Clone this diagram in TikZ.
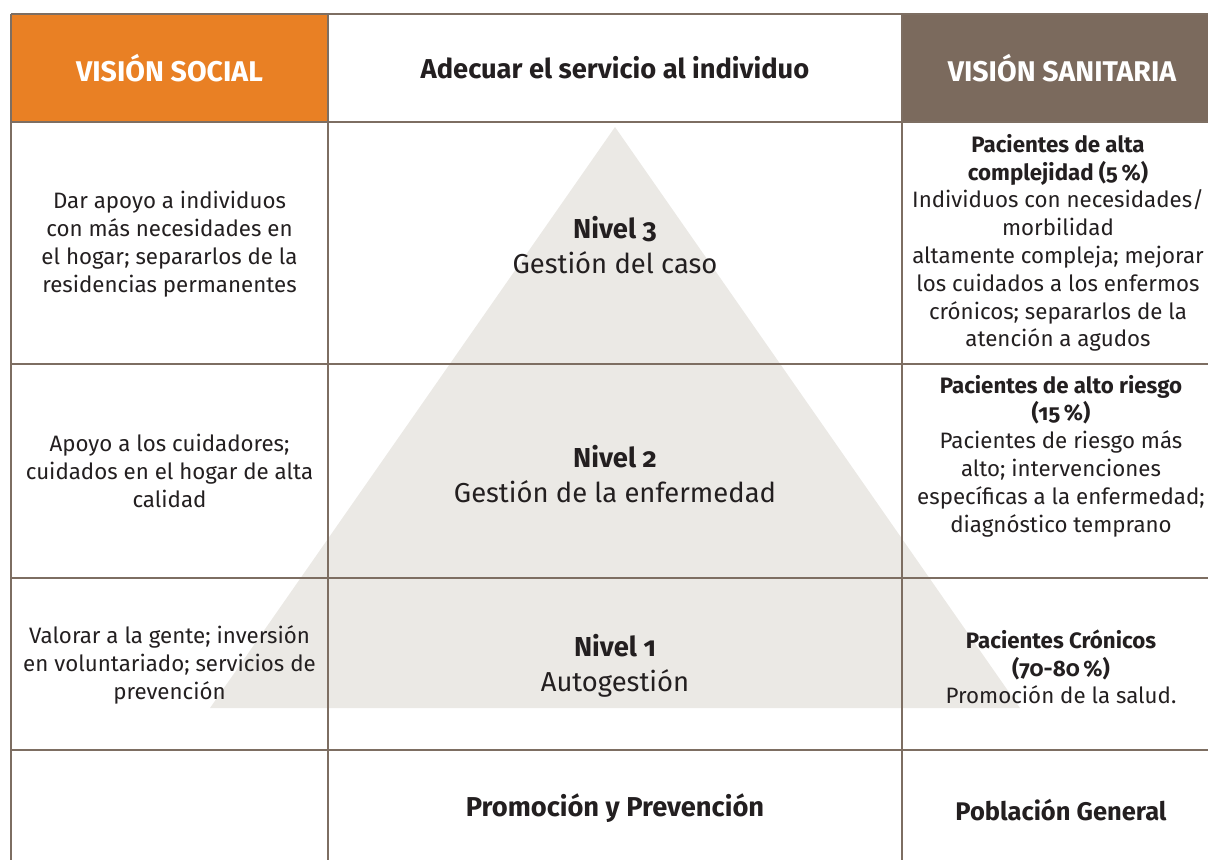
\documentclass[tikz,border=0pt]{standalone}
\usepackage{fontspec}
\setmainfont{Fira Sans}[Numbers=OldStyle]
\usetikzlibrary{positioning}
\definecolor{socialorange}{HTML}{E98024}
\definecolor{sanitbrown}{HTML}{7B6A5D}
\definecolor{pyramidgray}{HTML}{EBE9E5}
\definecolor{rulecol}{HTML}{7D6E62}
\definecolor{inkcol}{HTML}{231F20}

\begin{document}
\begin{tikzpicture}[x=1pt, y=-1pt,
    rule/.style={draw=rulecol, line width=1.4pt},
    head/.style={font=\fontsize{28.5}{32}\selectfont\bfseries, text=white},
    midhead/.style={font=\fontsize{27.3}{32}\selectfont\bfseries, text=inkcol},
    body/.style={align=center, font=\fontsize{22.3}{27.8}\selectfont, text=inkcol},
    level/.style={align=center, font=\fontsize{27.4}{35}\selectfont, text=inkcol}
  ]
  \useasboundingbox (0,0) rectangle (1208,860);

  % pyramid behind the grid
  \fill[pyramidgray] (210,708) -- (615,127) -- (1020,708) -- cycle;

  % header cells
  \fill[socialorange] (11,14) rectangle (328,122);
  \fill[sanitbrown] (902,14) rectangle (1208,122);

  % grid
  \foreach \y in {14,122,364,578,750}
    \draw[rule] (11,\y) -- (1208,\y);
  \foreach \x in {11,328,902}
    \draw[rule] (\x,14) -- (\x,860);

  % headers
  \node[head] (hsoc) at (169.5,68) {VISIÓN SOCIAL};
  \node[midhead] (hmid) at (615,68) {Adecuar el servicio al individuo};
  \node[head] (hsan) at (1062,68) {VISIÓN SANITARIA};

  % social column
  \node[body] (soc3) at (169.5,244) {Dar apoyo a individuos\\con más necesidades en\\el hogar; separarlos de la\\residencias permanentes};
  \node[body] (soc2) at (169.5,471) {Apoyo a los cuidadores;\\cuidados en el hogar de alta\\calidad};
  \node[body] (soc1) at (169.5,665) {Valorar a la gente; inversión\\en voluntariado; servicios de\\prevención};

  % levels
  \node[level] (niv3) at (615,245) {\textbf{Nivel 3}\\Gestión del caso};
  \node[level] (niv2) at (615,474) {\textbf{Nivel 2}\\Gestión de la enfermedad};
  \node[level] (niv1) at (615,666) {\textbf{Nivel 1}\\Autogestión};
  \node[midhead] (prom) at (615,808) {Promoción y Prevención};

  % sanitary column
  \node[body] (san3) at (1058,243) {\textbf{Pacientes de alta}\\\textbf{complejidad (5\,\%)}\\Individuos con necesidades/\\morbilidad\\altamente compleja; mejorar\\los cuidados a los enfermos\\crónicos; separarlos de la\\atención a agudos};
  \node[body] (san2) at (1061,456) {\textbf{Pacientes de alto riesgo}\\\textbf{(15\,\%)}\\Pacientes de riesgo más\\alto; intervenciones\\específicas a la enfermedad;\\diagnóstico temprano};
  \node[body] (san1) at (1061,667) {\textbf{Pacientes Crónicos}\\\textbf{(70-80\,\%)}\\Promoción de la salud.};
  \node[midhead, font=\fontsize{25.5}{30}\selectfont\bfseries] (pob) at (1061,810) {Población General};
\end{tikzpicture}
\end{document}
